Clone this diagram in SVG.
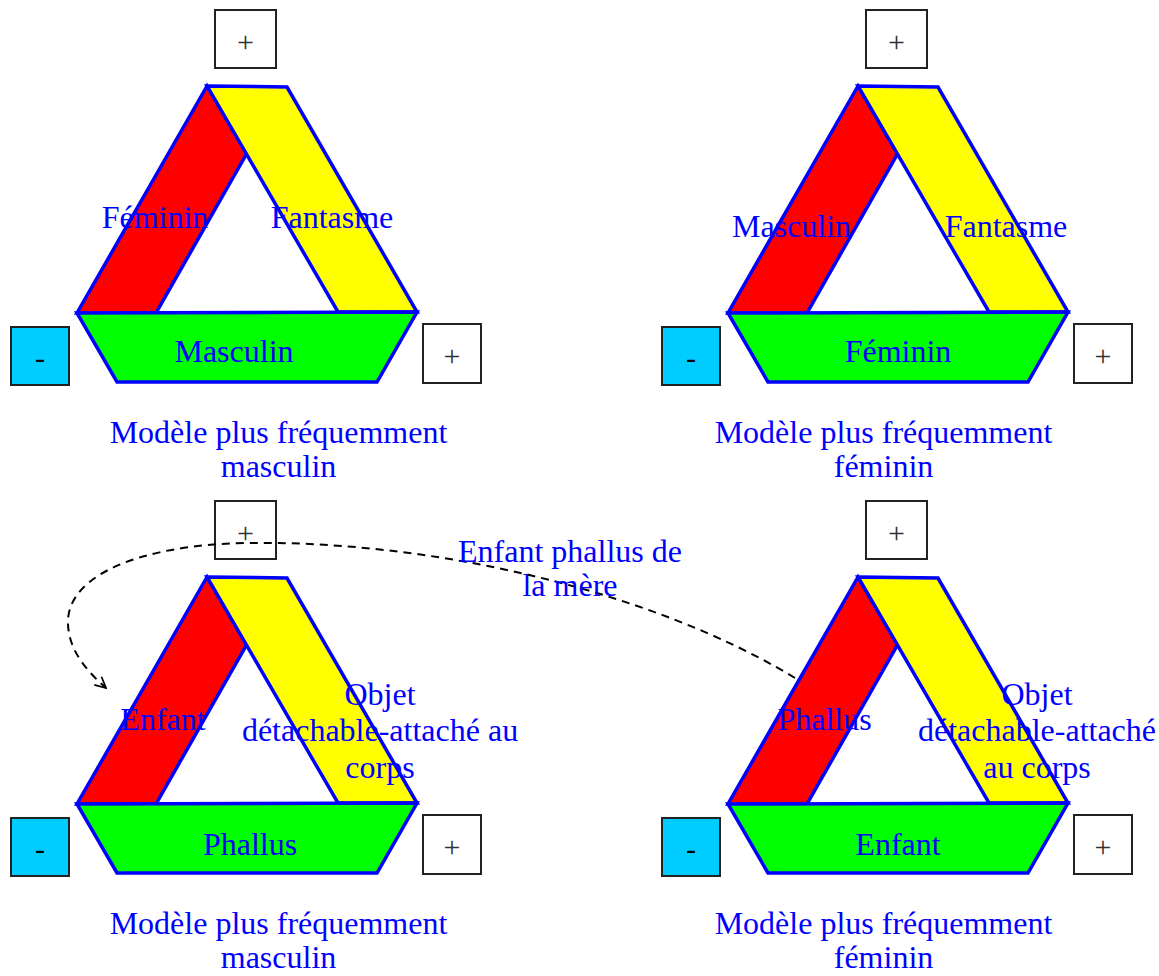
<svg xmlns="http://www.w3.org/2000/svg" width="1159" height="976" viewBox="0 0 1159 976">
<style>
.red{fill:#ff0000;stroke:#0000ff;stroke-width:3.5;stroke-linejoin:miter}
.yel{fill:#ffff00;stroke:#0000ff;stroke-width:3.5}
.grn{fill:#00ff00;stroke:#0000ff;stroke-width:3.5}
.t{font-family:"Liberation Serif","Times New Roman",serif;font-size:32px;fill:#0000ff;text-anchor:middle}
.box{fill:#ffffff;stroke:#222222;stroke-width:2}
.neg{fill:#00ccff;stroke:#222222;stroke-width:2}
.s{font-family:"Liberation Serif","Times New Roman",serif;font-size:30px;fill:#333333;text-anchor:middle}
.m{font-family:"Liberation Serif","Times New Roman",serif;font-size:30px;fill:#000000;text-anchor:middle}
.dash{fill:none;stroke:#000000;stroke-width:2;stroke-dasharray:8,6}
</style>
<defs>
<marker id="arr" viewBox="0 0 12 12" refX="11" refY="6" markerWidth="13" markerHeight="13" markerUnits="userSpaceOnUse" orient="auto">
<path d="M1,1 L11,6 L1,11" fill="none" stroke="#000" stroke-width="1.6"/>
</marker>
<g id="tri">
<polygon class="red" points="207,86 77,313 156,313 247,153"/>
<polygon class="yel" points="207,86 287,87 417,312 338,312"/>
<polygon class="grn" points="77,313 417,312 377,382 117,382"/>
</g>
</defs>

<g id="model1">
<use href="#tri"/>
<rect class="box" x="215" y="10" width="61" height="58"/><text class="s" x="245.5" y="52">+</text>
<rect class="neg" x="11" y="327" width="58" height="58"/><text class="m" x="40" y="368">-</text>
<rect class="box" x="423" y="324" width="58" height="59"/><text class="s" x="452" y="366">+</text>
<text class="t" x="155" y="228">Féminin</text>
<text class="t" x="332" y="228">Fantasme</text>
<text class="t" x="234" y="362">Masculin</text>
<text class="t" x="278.5" y="443">Modèle plus fréquemment</text>
<text class="t" x="278.5" y="477">masculin</text>
</g>

<g id="model2" transform="translate(651,0)">
<use href="#tri"/>
<rect class="box" x="215" y="10" width="61" height="58"/><text class="s" x="245.5" y="52">+</text>
<rect class="neg" x="11" y="327" width="58" height="58"/><text class="m" x="40" y="368">-</text>
<rect class="box" x="423" y="324" width="58" height="59"/><text class="s" x="452" y="366">+</text>
<text class="t" x="140.5" y="237">Masculin</text>
<text class="t" x="355" y="237">Fantasme</text>
<text class="t" x="247" y="362">Féminin</text>
<text class="t" x="232.5" y="443">Modèle plus fréquemment</text>
<text class="t" x="232.5" y="477">féminin</text>
</g>

<g id="model3" transform="translate(0,491)">
<use href="#tri"/>
<rect class="box" x="215" y="10" width="61" height="58"/><text class="s" x="245.5" y="52">+</text>
<rect class="neg" x="11" y="327" width="58" height="58"/><text class="m" x="40" y="368">-</text>
<rect class="box" x="423" y="324" width="58" height="59"/><text class="s" x="452" y="366">+</text>
<text class="t" x="163" y="239">Enfant</text>
<text class="t" x="380" y="214">Objet</text>
<text class="t" x="380" y="250">détachable-attaché au</text>
<text class="t" x="380" y="287">corps</text>
<text class="t" x="250" y="364">Phallus</text>
<text class="t" x="278.5" y="443">Modèle plus fréquemment</text>
<text class="t" x="278.5" y="477">masculin</text>
</g>

<g id="model4" transform="translate(651,491)">
<use href="#tri"/>
<rect class="box" x="215" y="10" width="61" height="58"/><text class="s" x="245.5" y="52">+</text>
<rect class="neg" x="11" y="327" width="58" height="58"/><text class="m" x="40" y="368">-</text>
<rect class="box" x="423" y="324" width="58" height="59"/><text class="s" x="452" y="366">+</text>
<text class="t" x="173.5" y="239">Phallus</text>
<text class="t" x="386" y="214">Objet</text>
<text class="t" x="386" y="250">détachable-attaché</text>
<text class="t" x="386" y="287">au corps</text>
<text class="t" x="247" y="364">Enfant</text>
<text class="t" x="232.5" y="443">Modèle plus fréquemment</text>
<text class="t" x="232.5" y="477">féminin</text>
</g>

<g id="connectors">
<path class="dash" d="M795,678 C650,590 430,540 245,543 C140,545 70,575 68,620 C67,650 88,672 106,688" marker-end="url(#arr)"/>
<text class="t" x="570" y="562">Enfant phallus de</text>
<text class="t" x="570" y="596">la mère</text>
</g>
</svg>
